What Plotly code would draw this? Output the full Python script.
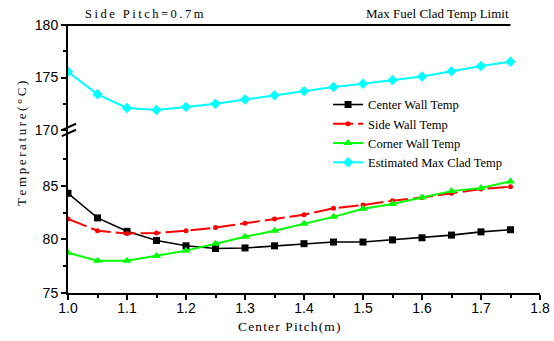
import plotly.graph_objects as go

pitch = [1.0, 1.05, 1.1, 1.15, 1.2, 1.25, 1.3, 1.35, 1.4, 1.45, 1.5, 1.55, 1.6, 1.65, 1.7, 1.75]
center_wall = [84.3, 82.0, 80.75, 79.9, 79.4, 79.15, 79.2, 79.4, 79.6, 79.75, 79.75, 79.95, 80.15, 80.4, 80.7, 80.9]
side_wall = [81.9, 80.8, 80.55, 80.6, 80.8, 81.1, 81.5, 81.9, 82.3, 82.9, 83.2, 83.6, 83.9, 84.3, 84.7, 84.9]
corner_wall = [78.75, 78.0, 78.0, 78.45, 78.95, 79.6, 80.25, 80.8, 81.45, 82.1, 82.85, 83.3, 83.9, 84.5, 84.8, 85.4]
est_clad = [175.55, 173.4, 172.1, 171.9, 172.2, 172.5, 172.9, 173.3, 173.7, 174.1, 174.4, 174.75, 175.1, 175.6, 176.1, 176.5]
limit_x = [1.0, 1.75]
limit_y = [180, 180]

def spaced(s, sep="\u2009"):
    return sep.join(list(s))

serif = "Liberation Serif"
sans = "Liberation Sans"

fig = go.Figure()
fig.add_trace(go.Scatter(x=pitch, y=center_wall, name="Center Wall Temp", mode="lines+markers",
                         line=dict(color="black", width=1.6), marker=dict(symbol="square", size=7, color="black")))
fig.add_trace(go.Scatter(x=pitch, y=side_wall, name="Side Wall Temp", mode="lines+markers",
                         line=dict(color="#ff0000", width=2, dash="20px,5px"), marker=dict(symbol="circle", size=5, color="#ff0000")))
fig.add_trace(go.Scatter(x=pitch, y=corner_wall, name="Corner Wall Temp", mode="lines+markers",
                         line=dict(color="#00ff00", width=2), marker=dict(symbol="triangle-up", size=8, color="#00ff00")))
fig.add_trace(go.Scatter(x=pitch, y=est_clad, name="Estimated Max Clad Temp", mode="lines+markers", yaxis="y2",
                         line=dict(color="#00ffff", width=2), marker=dict(symbol="diamond", size=8, color="#00ffff")))
fig.add_trace(go.Scatter(x=limit_x, y=limit_y, mode="lines", yaxis="y2", showlegend=False,
                         line=dict(color="black", width=2), hoverinfo="skip"))

brk = 0.606
axis_common = dict(showline=True, linecolor="black", linewidth=2, ticks="outside", ticklen=5, tickwidth=1.5,
                   tickcolor="black", showgrid=False, zeroline=False, tickfont=dict(family=sans, size=14, color="black"),
                   automargin=False)
minor_common = dict(ticks="outside", ticklen=3, tickwidth=1.5, tickcolor="black")

fig.update_layout(
    width=554, height=341,
    margin=dict(l=68, r=14, t=24, b=48, autoexpand=False),
    plot_bgcolor="white", paper_bgcolor="white",
    xaxis=dict(range=[1.0, 1.8], tickvals=[1.0, 1.1, 1.2, 1.3, 1.4, 1.5, 1.6, 1.7, 1.8],
               ticktext=["1.0", "1.1", "1.2", "1.3", "1.4", "1.5", "1.6", "1.7", "1.8"],
               minor=dict(dtick=0.05, tick0=1.0, **minor_common),
               ticklabelstandoff=-4,
               **axis_common,
               anchor="y"),
    yaxis=dict(domain=[0, brk], range=[75, 90.2], tickvals=[75, 80, 85],
               **axis_common,
               minor=dict(tickvals=[77.5, 82.5, 87.5], **minor_common),
               anchor="x"),
    yaxis2=dict(domain=[brk, 1], range=[170, 180.1], tickvals=[170, 175, 180],
                **axis_common,
                minor=dict(tickvals=[172.5, 177.5], **minor_common),
                anchor="x"),
    legend=dict(x=0.551, y=0.755, xanchor="left", yanchor="top", bgcolor="rgba(0,0,0,0)",
                font=dict(family=serif, size=12.5, color="black"), tracegroupgap=0, itemwidth=30),
    showlegend=True,
)

fig.add_annotation(text=spaced("Center Pitch(m)", "\u200a"), xref="paper", yref="paper", x=(289 - 68) / 472,
                   xanchor="center", y=-33 / 269, yanchor="middle", showarrow=False,
                   font=dict(family=serif, size=13.5, color="black"))
fig.add_annotation(text=spaced("Temperature(°C)"), xref="paper", yref="paper", x=-46 / 472, xanchor="center",
                   y=0.554, yanchor="middle",
                   textangle=-90, showarrow=False, font=dict(family=serif, size=13, color="black"))
fig.add_annotation(text=spaced("Side Pitch=0.7m"), xref="paper", yref="paper", x=15 / 472, xanchor="left", y=1.0,
                   yanchor="bottom", yshift=1, showarrow=False, font=dict(family=serif, size=12.5, color="black"))
fig.add_annotation(text="Max Fuel Clad Temp Limit", xref="paper", yref="paper", x=0.938, xanchor="right", y=1.0,
                   yanchor="bottom", yshift=1, showarrow=False, font=dict(family=serif, size=13, color="black"))

# axis break marks
for dy in (-3, 3):
    fig.add_shape(type="line", xref="paper", yref="paper", x0=-0.013, x1=0.017,
                  y0=brk - 0.012 + dy / 269, y1=brk + 0.012 + dy / 269, line=dict(color="black", width=2))

fig.write_html("out.html", config={"displayModeBar": False},
               post_script="document.body.style.margin='0';document.body.style.padding='0';")
